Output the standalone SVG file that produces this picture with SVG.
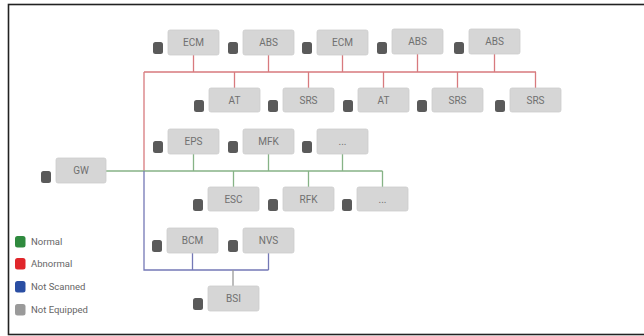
<svg xmlns="http://www.w3.org/2000/svg" width="644" height="336" viewBox="0 0 644 336">
<style>
.box{fill:#d6d6d6;stroke:#cdcdcd;stroke-width:0.8}
.sq{fill:#5a5a5a}
.lbl{font-family:Roboto,"Liberation Sans",sans-serif;font-size:10px;fill:#707070;text-anchor:middle}
.leg{font-family:Roboto,"Liberation Sans",sans-serif;font-size:9.5px;fill:#666}
.red{stroke:#d87a7e;stroke-width:1.3;fill:none}
.green{stroke:#86b386;stroke-width:1.3;fill:none}
.blue{stroke:#7478b6;stroke-width:1.3;fill:none}
.gray{stroke:#9a9a9a;stroke-width:1.3;fill:none}
</style>
<defs>
<rect id="sqr" class="sq" width="10" height="12" rx="2.5"/>
</defs>
<rect x="0" y="0" width="644" height="336" fill="#ffffff"/>
<rect x="8.5" y="4.5" width="660" height="330" fill="none" stroke="#222" stroke-width="1.6"/>

<g id="connectors">
<path class="red" d="M144 72H536M193.5 55V72M268.5 55V72M342.5 55V72M417.5 54V72M494.5 54V72M234.5 72V88M308.5 72V88M383.5 72V88M457.5 72V88M535.5 72V88M144 72V171"/>
<path class="green" d="M106 171H382.5M193.5 154V171M268.5 154V171M342.5 154V171M233.5 171V187M308.5 171V187M382.5 171V187"/>
<path class="blue" d="M144 171V270H268.5M192.5 253V270M268.5 253V270"/>
<path class="gray" d="M233 270V286"/>
</g>

<g id="ECM1"><use href="#sqr" x="153" y="42"/><rect class="box" x="168" y="30" width="51" height="25" rx="2"/><text class="lbl" x="193.5" y="46">ECM</text></g>
<g id="ABS1"><use href="#sqr" x="228" y="42"/><rect class="box" x="243" y="30" width="51" height="25" rx="2"/><text class="lbl" x="268.5" y="46">ABS</text></g>
<g id="ECM2"><use href="#sqr" x="302" y="42"/><rect class="box" x="317" y="30" width="51" height="25" rx="2"/><text class="lbl" x="342.5" y="46">ECM</text></g>
<g id="ABS2"><use href="#sqr" x="377" y="42"/><rect class="box" x="392" y="29" width="51" height="25" rx="2"/><text class="lbl" x="417.5" y="45">ABS</text></g>
<g id="ABS3"><use href="#sqr" x="454" y="42"/><rect class="box" x="469" y="29" width="51" height="25" rx="2"/><text class="lbl" x="494.5" y="45">ABS</text></g>

<g id="AT1"><use href="#sqr" x="194" y="100"/><rect class="box" x="209" y="88" width="51" height="24" rx="2"/><text class="lbl" x="234.5" y="103.5">AT</text></g>
<g id="SRS1"><use href="#sqr" x="268" y="100"/><rect class="box" x="283" y="88" width="51" height="24" rx="2"/><text class="lbl" x="308.5" y="103.5">SRS</text></g>
<g id="AT2"><use href="#sqr" x="343" y="100"/><rect class="box" x="358" y="88" width="51" height="24" rx="2"/><text class="lbl" x="383.5" y="103.5">AT</text></g>
<g id="SRS2"><use href="#sqr" x="417" y="100"/><rect class="box" x="432" y="88" width="51" height="24" rx="2"/><text class="lbl" x="457.5" y="103.5">SRS</text></g>
<g id="SRS3"><use href="#sqr" x="495" y="100"/><rect class="box" x="510" y="88" width="51" height="24" rx="2"/><text class="lbl" x="535.5" y="103.5">SRS</text></g>

<g id="EPS"><use href="#sqr" x="153" y="141"/><rect class="box" x="168" y="129" width="51" height="25" rx="2"/><text class="lbl" x="193.5" y="145">EPS</text></g>
<g id="MFK"><use href="#sqr" x="228" y="141"/><rect class="box" x="243" y="129" width="51" height="25" rx="2"/><text class="lbl" x="268.5" y="145">MFK</text></g>
<g id="MORE1"><use href="#sqr" x="302" y="141"/><rect class="box" x="317" y="129" width="51" height="25" rx="2"/><text class="lbl" x="342.5" y="145">...</text></g>

<g id="GW"><use href="#sqr" x="41" y="171"/><rect class="box" x="56" y="158" width="50" height="25" rx="2"/><text class="lbl" x="81" y="174">GW</text></g>

<g id="ESC"><use href="#sqr" x="193" y="199"/><rect class="box" x="208" y="187" width="51" height="24" rx="2"/><text class="lbl" x="233.5" y="202.5">ESC</text></g>
<g id="RFK"><use href="#sqr" x="268" y="199"/><rect class="box" x="283" y="187" width="51" height="24" rx="2"/><text class="lbl" x="308.5" y="202.5">RFK</text></g>
<g id="MORE2"><use href="#sqr" x="342" y="199"/><rect class="box" x="357" y="187" width="51" height="24" rx="2"/><text class="lbl" x="382.5" y="202.5">...</text></g>

<g id="BCM"><use href="#sqr" x="152" y="240"/><rect class="box" x="167" y="228" width="51" height="25" rx="2"/><text class="lbl" x="192.5" y="244">BCM</text></g>
<g id="NVS"><use href="#sqr" x="228" y="240"/><rect class="box" x="243" y="228" width="51" height="25" rx="2"/><text class="lbl" x="268.5" y="244">NVS</text></g>
<g id="BSI"><use href="#sqr" x="193" y="298"/><rect class="box" x="208" y="286" width="51" height="25" rx="2"/><text class="lbl" x="233.5" y="302">BSI</text></g>

<g id="legend">
<rect x="15" y="236" width="10.5" height="11.5" rx="2.5" fill="#2f8a3e"/><text class="leg" x="31" y="245">Normal</text>
<rect x="15" y="258" width="10.5" height="11.5" rx="2.5" fill="#e0262b"/><text class="leg" x="31" y="267">Abnormal</text>
<rect x="15" y="281" width="10.5" height="11.5" rx="2.5" fill="#2a4ea3"/><text class="leg" x="31" y="290">Not Scanned</text>
<rect x="15" y="304" width="10.5" height="11.5" rx="2.5" fill="#9a9a9a"/><text class="leg" x="31" y="313">Not Equipped</text>
</g>
</svg>
